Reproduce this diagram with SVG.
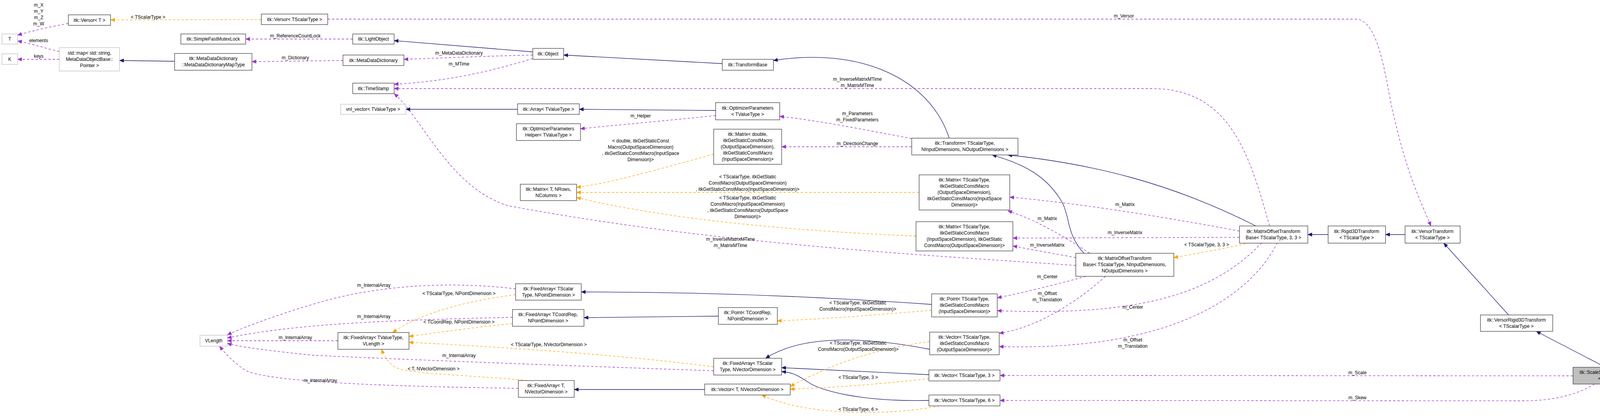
<svg xmlns="http://www.w3.org/2000/svg" width="4248" height="1071" viewBox="0 0 4248 1071">
<style>
text{font-family:"Liberation Sans",Arial,sans-serif;font-size:12px;fill:#000;text-anchor:middle}
.n rect{fill:#fff;stroke:#404040;stroke-width:1.3}
.g rect{fill:#fff;stroke:#bfbfbf;stroke-width:1.3}
.h rect{fill:#bfbfbf;stroke:#404040;stroke-width:1.3}
.i{fill:none;stroke:#191970;stroke-width:1.3}
.u{fill:none;stroke:#9a32cd;stroke-width:1.3;stroke-dasharray:6,5}
.t{fill:none;stroke:#ffa500;stroke-width:1.3;stroke-dasharray:6,5}
</style>
<defs>
<marker id="ai" markerWidth="12" markerHeight="10" refX="11" refY="5" orient="auto" markerUnits="userSpaceOnUse"><path d="M0,0L12,5L0,10z" fill="#191970"/></marker>
<marker id="au" markerWidth="12" markerHeight="10" refX="11" refY="5" orient="auto" markerUnits="userSpaceOnUse"><path d="M0,0L12,5L0,10z" fill="#9a32cd"/></marker>
<marker id="at" markerWidth="12" markerHeight="10" refX="11" refY="5" orient="auto" markerUnits="userSpaceOnUse"><path d="M0,0L12,5L0,10z" fill="#ffa500"/></marker>
</defs>
<g id="edges">
<path class="u" marker-end="url(#au)" d="M175,60 C120,70 80,80 45,90"/>
<path class="u" marker-end="url(#au)" d="M152,132 C110,122 80,112 45,105"/>
<path class="u" marker-end="url(#au)" d="M152,152 L45,152"/>
<path class="t" marker-end="url(#at)" d="M669,50 L283,51"/>
<path class="i" marker-end="url(#ai)" d="M447,157 L306,155"/>
<path class="u" marker-end="url(#au)" d="M903,100 L629,100"/>
<path class="u" marker-end="url(#au)" d="M878,155 L645,158"/>
<path class="i" marker-end="url(#ai)" d="M1364,133 L1009,104"/>
<path class="u" marker-end="url(#au)" d="M1364,141 C1200,145 1100,150 1034,152"/>
<path class="u" marker-end="url(#au)" d="M1364,150 C1200,200 1100,210 1009,216"/>
<path class="i" marker-end="url(#ai)" d="M1849,163 L1443,141"/>
<path class="i" marker-end="url(#ai)" d="M2430,354 C2380,200 2200,120 1980,155"/>
<path class="u" marker-end="url(#au)" d="M3250,579 C3200,400 3150,227 2950,227 L1009,227"/>
<path class="u" marker-end="url(#au)" d="M2754,680 C2300,650 1800,620 1300,527 C1150,480 1080,300 1009,240"/>
<path class="i" marker-end="url(#ai)" d="M1325,280 L1039,280"/>
<path class="i" marker-end="url(#ai)" d="M1832,283 L1483,280"/>
<path class="u" marker-end="url(#au)" d="M1832,296 C1700,310 1580,320 1486,330"/>
<path class="u" marker-end="url(#au)" d="M2334,355 C2200,330 2100,310 1996,298"/>
<path class="u" marker-end="url(#au)" d="M2334,376 L2001,376"/>
<path class="t" marker-end="url(#at)" d="M1827,395 C1700,430 1560,470 1476,480"/>
<path class="t" marker-end="url(#at)" d="M2353,493 L1476,493"/>
<path class="t" marker-end="url(#at)" d="M2345,605 C2000,590 1700,560 1476,506"/>
<path class="i" marker-end="url(#ai)" d="M3215,579 C3000,470 2800,420 2580,397"/>
<path class="i" marker-end="url(#ai)" d="M2775,649 C2730,600 2740,560 2720,520 C2680,450 2620,420 2540,397"/>
<path class="u" marker-end="url(#au)" d="M3173,592 C2950,550 2750,520 2585,505"/>
<path class="u" marker-end="url(#au)" d="M3173,608 L2593,610"/>
<path class="u" marker-end="url(#au)" d="M2790,649 C2700,590 2640,560 2580,540"/>
<path class="u" marker-end="url(#au)" d="M2754,660 C2700,650 2640,640 2593,630"/>
<path class="t" marker-end="url(#at)" d="M3200,622 C3120,640 3060,650 3005,660"/>
<path class="i" marker-end="url(#ai)" d="M3400,601 L3348,601"/>
<path class="i" marker-end="url(#ai)" d="M3597,601 L3547,601"/>
<path class="i" marker-end="url(#ai)" d="M3862,807 L3696,623"/>
<path class="i" marker-end="url(#ai)" d="M4110,941 L3933,849"/>
<path class="u" marker-end="url(#au)" d="M839,49 L3470,49 C3520,49 3540,150 3560,260 C3600,450 3640,520 3663,579"/>
<path class="u" marker-end="url(#au)" d="M2780,708 C2700,730 2620,750 2553,763"/>
<path class="u" marker-end="url(#au)" d="M2830,708 C2750,780 2650,840 2558,854"/>
<path class="u" marker-end="url(#au)" d="M3230,622 C3100,760 2900,810 2553,796"/>
<path class="u" marker-end="url(#au)" d="M3270,622 C3200,760 3000,900 2558,888"/>
<path class="u" marker-end="url(#au)" d="M4027,963 L2560,962"/>
<path class="u" marker-end="url(#au)" d="M4082,984 C4040,1010 3980,1027 3900,1027 L2560,1026"/>
<path class="i" marker-end="url(#ai)" d="M2385,780 C2100,760 1800,748 1488,748"/>
<path class="t" marker-end="url(#at)" d="M2385,795 C2200,810 2100,818 1990,822"/>
<path class="i" marker-end="url(#ai)" d="M1839,810 L1495,814"/>
<path class="u" marker-end="url(#au)" d="M1320,740 C1150,720 960,730 800,780 C700,810 620,840 582,858"/>
<path class="t" marker-end="url(#at)" d="M1320,755 C1200,770 1080,800 1005,852"/>
<path class="u" marker-end="url(#au)" d="M1312,813 C1000,820 750,830 582,866"/>
<path class="t" marker-end="url(#at)" d="M1312,829 C1200,840 1100,855 1047,862"/>
<path class="u" marker-end="url(#au)" d="M865,873 L582,873"/>
<path class="u" marker-end="url(#au)" d="M1827,950 C1400,935 1000,920 800,910 C700,900 620,890 582,880"/>
<path class="t" marker-end="url(#at)" d="M1827,940 C1600,910 1300,890 1047,877"/>
<path class="u" marker-end="url(#au)" d="M1327,995 C1000,990 700,980 630,950 C600,930 580,910 562,887"/>
<path class="t" marker-end="url(#at)" d="M1350,975 C1200,960 1050,960 1010,940 C990,925 982,910 977,895"/>
<path class="i" marker-end="url(#ai)" d="M1804,998 L1470,998"/>
<path class="i" marker-end="url(#ai)" d="M2380,895 C2200,860 2050,860 1960,918"/>
<path class="i" marker-end="url(#ai)" d="M2378,960 L2001,942"/>
<path class="i" marker-end="url(#ai)" d="M2378,1026 C2200,1030 2100,1000 2070,980 C2040,960 2030,955 2001,952"/>
<path class="t" marker-end="url(#at)" d="M2380,875 C2200,900 2100,950 2023,990"/>
<path class="t" marker-end="url(#at)" d="M2378,970 C2250,985 2100,995 2023,997"/>
<path class="t" marker-end="url(#at)" d="M2405,1040 C2250,1070 2050,1060 1950,1012"/>
<text x="99" y="17">m_X</text><text x="99" y="33">m_Y</text><text x="99" y="49">m_Z</text><text x="99" y="65">m_W</text>
<text x="99" y="108">elements</text><text x="99" y="148">keys</text>
<text x="379" y="48">&lt; TScalarType &gt;</text>
<text x="756" y="96">m_ReferenceCountLock</text>
<text x="756" y="152">m_Dictionary</text>
<text x="1175" y="140">m_MetaDataDictionary</text>
<text x="1175" y="168">m_MTime</text>
<text x="2877" y="45">m_Versor</text>
<text x="2195" y="207">m_InverseMatrixMTime</text><text x="2195" y="223">m_MatrixMTime</text>
<text x="1640" y="301">m_Helper</text>
<text x="2195" y="295">m_Parameters</text><text x="2195" y="311">m_FixedParameters</text>
<text x="2195" y="372">m_DirectionChange</text>
<text x="1640" y="365">&lt; double, itkGetStaticConst</text><text x="1640" y="381">Macro(OutputSpaceDimension)</text><text x="1640" y="397">, itkGetStaticConstMacro(InputSpace</text><text x="1640" y="413">Dimension)&gt;</text>
<text x="1914" y="457">&lt; TScalarType, itkGetStatic</text><text x="1914" y="473">ConstMacro(OutputSpaceDimension)</text><text x="1914" y="489">, itkGetStaticConstMacro(InputSpaceDimension)&gt;</text>
<text x="1914" y="511">&lt; TScalarType, itkGetStatic</text><text x="1914" y="527">ConstMacro(InputSpaceDimension)</text><text x="1914" y="543">, itkGetStaticConstMacro(OutputSpace</text><text x="1914" y="559">Dimension)&gt;</text>
<text x="1870" y="617">m_InverseMatrixMTime</text><text x="1870" y="633">m_MatrixMTime</text>
<text x="2880" y="528">m_Matrix</text><text x="2880" y="600">m_InverseMatrix</text>
<text x="2681" y="564">m_Matrix</text><text x="2681" y="632">m_InverseMatrix</text>
<text x="3089" y="631">&lt; TScalarType, 3, 3 &gt;</text>
<text x="2681" y="713">m_Center</text>
<text x="2681" y="756">m_Offset</text><text x="2681" y="772">m_Translation</text>
<text x="2900" y="791">m_Center</text>
<text x="2900" y="875">m_Offset</text><text x="2900" y="891">m_Translation</text>
<text x="2196" y="780">&lt; TScalarType, itkGetStatic</text><text x="2196" y="796">ConstMacro(InputSpaceDimension)&gt;</text>
<text x="957" y="735">m_InternalArray</text><text x="957" y="815">m_InternalArray</text><text x="756" y="869">m_InternalArray</text>
<text x="1175" y="756">&lt; TScalarType, NPointDimension &gt;</text>
<text x="1175" y="829">&lt; TCoordRep, NPointDimension &gt;</text>
<text x="1405" y="887">&lt; TScalarType, NVectorDimension &gt;</text>
<text x="1175" y="915">m_InternalArray</text>
<text x="820" y="979">m_InternalArray</text>
<text x="1110" y="949">&lt; T, NVectorDimension &gt;</text>
<text x="2197" y="883">&lt; TScalarType, itkGetStatic</text><text x="2197" y="899">ConstMacro(OutputSpaceDimension)&gt;</text>
<text x="2197" y="971">&lt; TScalarType, 3 &gt;</text>
<text x="2197" y="1053">&lt; TScalarType, 6 &gt;</text>
<text x="3475" y="959">m_Scale</text>
<text x="3475" y="1023">m_Skew</text>
</g>
<g id="n_T" class="g"><rect x="5" y="87" width="40" height="26"/><text x="25" y="104">T</text></g>
<g id="n_K" class="g"><rect x="5" y="138" width="40" height="27"/><text x="25" y="156">K</text></g>
<g id="n_VersorT" class="n"><rect x="175" y="38" width="108" height="27"/><text x="229" y="56">itk::Versor&lt; T &gt;</text></g>
<g id="n_map" class="g"><rect x="152" y="122" width="154" height="60"/><text x="229" y="140">std::map&lt; std::string,</text><text x="229" y="156">MetaDataObjectBase::</text><text x="229" y="172">Pointer &gt;</text></g>
<g id="n_mutex" class="n"><rect x="463" y="87" width="166" height="26"/><text x="546" y="104">itk::SimpleFastMutexLock</text></g>
<g id="n_maptype" class="n"><rect x="447" y="137" width="198" height="43"/><text x="546" y="154">itk::MetaDataDictionary</text><text x="546" y="170">::MetaDataDictionaryMapType</text></g>
<g id="n_VersorTS" class="n"><rect x="669" y="36" width="170" height="27"/><text x="754" y="54">itk::Versor&lt; TScalarType &gt;</text></g>
<g id="n_light" class="n"><rect x="903" y="87" width="106" height="26"/><text x="956" y="104">itk::LightObject</text></g>
<g id="n_mdd" class="n"><rect x="878" y="141" width="156" height="27"/><text x="956" y="159">itk::MetaDataDictionary</text></g>
<g id="n_ts" class="n"><rect x="903" y="213" width="106" height="27"/><text x="956" y="231">itk::TimeStamp</text></g>
<g id="n_vnl" class="g"><rect x="872" y="267" width="167" height="26"/><text x="955" y="284">vnl_vector&lt; TValueType &gt;</text></g>
<g id="n_obj" class="n"><rect x="1364" y="124" width="79" height="28"/><text x="1403" y="142">itk::Object</text></g>
<g id="n_tb" class="n"><rect x="1849" y="152" width="131" height="28"/><text x="1914" y="170">itk::TransformBase</text></g>
<g id="n_array" class="n"><rect x="1325" y="266" width="158" height="27"/><text x="1404" y="284">itk::Array&lt; TValueType &gt;</text></g>
<g id="n_op" class="n"><rect x="1832" y="263" width="164" height="44"/><text x="1914" y="281">itk::OptimizerParameters</text><text x="1914" y="297">&lt; TValueType &gt;</text></g>
<g id="n_oph" class="n"><rect x="1322" y="317" width="164" height="43"/><text x="1404" y="334">itk::OptimizerParameters</text><text x="1404" y="350">Helper&lt; TValueType &gt;</text></g>
<g id="n_md" class="n"><rect x="1827" y="331" width="174" height="90"/><text x="1914" y="348">itk::Matrix&lt; double,</text><text x="1914" y="364">itkGetStaticConstMacro</text><text x="1914" y="380">(OutputSpaceDimension),</text><text x="1914" y="396">itkGetStaticConstMacro</text><text x="1914" y="412">(InputSpaceDimension)&gt;</text></g>
<g id="n_mt" class="n"><rect x="1332" y="472" width="144" height="42"/><text x="1404" y="489">itk::Matrix&lt; T, NRows,</text><text x="1404" y="505">NColumns &gt;</text></g>
<g id="n_tr" class="n"><rect x="2334" y="354" width="272" height="43"/><text x="2470" y="371">itk::Transform&lt; TScalarType,</text><text x="2470" y="387">NInputDimensions, NOutputDimensions &gt;</text></g>
<g id="n_m5" class="n"><rect x="2353" y="448" width="232" height="90"/><text x="2469" y="465">itk::Matrix&lt; TScalarType,</text><text x="2469" y="481">itkGetStaticConstMacro</text><text x="2469" y="497">(OutputSpaceDimension),</text><text x="2469" y="513">itkGetStaticConstMacro(InputSpace</text><text x="2469" y="529">Dimension)&gt;</text></g>
<g id="n_m4" class="n"><rect x="2345" y="568" width="248" height="75"/><text x="2469" y="585">itk::Matrix&lt; TScalarType,</text><text x="2469" y="601">itkGetStaticConstMacro</text><text x="2469" y="617">(InputSpaceDimension), itkGetStatic</text><text x="2469" y="633">ConstMacro(OutputSpaceDimension)&gt;</text></g>
<g id="n_motbg" class="n"><rect x="2754" y="649" width="251" height="59"/><text x="2879" y="666">itk::MatrixOffsetTransform</text><text x="2879" y="682">Base&lt; TScalarType, NInputDimensions,</text><text x="2879" y="698">NOutputDimensions &gt;</text></g>
<g id="n_motb33" class="n"><rect x="3173" y="579" width="175" height="44"/><text x="3260" y="597">itk::MatrixOffsetTransform</text><text x="3260" y="613">Base&lt; TScalarType, 3, 3 &gt;</text></g>
<g id="n_rigid" class="n"><rect x="3400" y="579" width="147" height="44"/><text x="3473" y="597">itk::Rigid3DTransform</text><text x="3473" y="613">&lt; TScalarType &gt;</text></g>
<g id="n_vt" class="n"><rect x="3597" y="579" width="141" height="44"/><text x="3667" y="597">itk::VersorTransform</text><text x="3667" y="613">&lt; TScalarType &gt;</text></g>
<g id="n_vr" class="n"><rect x="3790" y="807" width="185" height="42"/><text x="3882" y="824">itk::VersorRigid3DTransform</text><text x="3882" y="840">&lt; TScalarType &gt;</text></g>
<g id="n_ss" class="h"><rect x="4027" y="941" width="216" height="43"/><text x="4135" y="958">itk::ScaleSkewVersor3DTransform</text><text x="4135" y="974">&lt; TScalarType &gt;</text></g>
<g id="n_pt" class="n"><rect x="2385" y="753" width="168" height="59"/><text x="2469" y="770">itk::Point&lt; TScalarType,</text><text x="2469" y="786">itkGetStaticConstMacro</text><text x="2469" y="802">(InputSpaceDimension)&gt;</text></g>
<g id="n_ptc" class="n"><rect x="1839" y="788" width="151" height="43"/><text x="1914" y="805">itk::Point&lt; TCoordRep,</text><text x="1914" y="821">NPointDimension &gt;</text></g>
<g id="n_fap" class="n"><rect x="1320" y="727" width="168" height="42"/><text x="1404" y="744">itk::FixedArray&lt; TScalar</text><text x="1404" y="760">Type, NPointDimension &gt;</text></g>
<g id="n_fac" class="n"><rect x="1312" y="793" width="183" height="43"/><text x="1403" y="810">itk::FixedArray&lt; TCoordRep,</text><text x="1403" y="826">NPointDimension &gt;</text></g>
<g id="n_vl" class="g"><rect x="512" y="859" width="70" height="28"/><text x="547" y="877">VLength</text></g>
<g id="n_favl" class="n"><rect x="865" y="852" width="182" height="43"/><text x="956" y="869">itk::FixedArray&lt; TValueType,</text><text x="956" y="885">VLength &gt;</text></g>
<g id="n_fav" class="n"><rect x="1827" y="918" width="174" height="43"/><text x="1914" y="935">itk::FixedArray&lt; TScalar</text><text x="1914" y="951">Type, NVectorDimension &gt;</text></g>
<g id="n_vtn" class="n"><rect x="1804" y="984" width="219" height="28"/><text x="1913" y="1002">itk::Vector&lt; T, NVectorDimension &gt;</text></g>
<g id="n_fatn" class="n"><rect x="1327" y="975" width="143" height="43"/><text x="1398" y="992">itk::FixedArray&lt; T,</text><text x="1398" y="1008">NVectorDimension &gt;</text></g>
<g id="n_vout" class="n"><rect x="2380" y="851" width="178" height="58"/><text x="2469" y="868">itk::Vector&lt; TScalarType,</text><text x="2469" y="884">itkGetStaticConstMacro</text><text x="2469" y="900">(OutputSpaceDimension)&gt;</text></g>
<g id="n_v3" class="n"><rect x="2378" y="948" width="182" height="28"/><text x="2469" y="966">itk::Vector&lt; TScalarType, 3 &gt;</text></g>
<g id="n_v6" class="n"><rect x="2378" y="1012" width="182" height="28"/><text x="2469" y="1030">itk::Vector&lt; TScalarType, 6 &gt;</text></g>
</svg>
